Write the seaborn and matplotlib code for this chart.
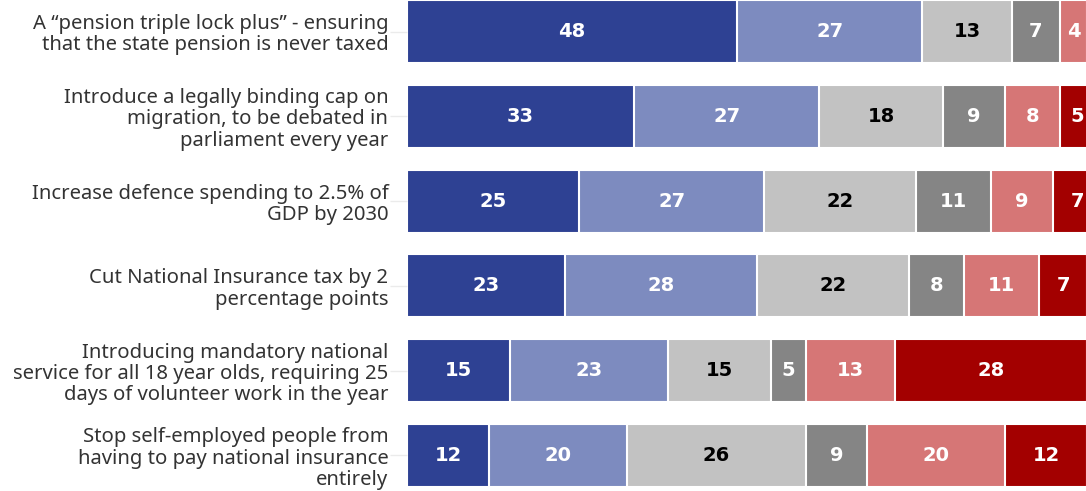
import matplotlib
matplotlib.use('Agg')
import matplotlib.pyplot as plt
import seaborn as sns
import pandas as pd
import numpy as np

# Statements (y categories)
statements = [
    'A \u201cpension triple lock plus\u201d - ensuring\nthat the state pension is never taxed',
    'Introduce a legally binding cap on\nmigration, to be debated in\nparliament every year',
    'Increase defence spending to 2.5% of\nGDP by 2030',
    'Cut National Insurance tax by 2\npercentage points',
    'Introducing mandatory national\nservice for all 18 year olds, requiring 25\ndays of volunteer work in the year',
    'Stop self-employed people from\nhaving to pay national insurance\nentirely',
]

# Response shares (%), one list per answer band
strongly_support = [48, 33, 25, 23, 15, 12]
tend_to_support = [27, 27, 27, 28, 23, 20]
neither = [13, 18, 22, 22, 15, 26]
dont_know = [7, 9, 11, 8, 5, 9]
tend_to_oppose = [4, 8, 9, 11, 13, 20]
strongly_oppose = [1, 5, 7, 7, 28, 12]

bands = ['Strongly support', 'Tend to support', 'Neither', "Don't know",
         'Tend to oppose', 'Strongly oppose']
band_values = [strongly_support, tend_to_support, neither, dont_know,
               tend_to_oppose, strongly_oppose]
colors = ['#2e4193', '#7d8bbf', '#c2c2c2', '#858585', '#d67676', '#a30000']
text_colors = ['white', 'white', 'black', 'white', 'white', 'white']

df = pd.DataFrame(dict(zip(bands, band_values)), index=statements)
cum = df.cumsum(axis=1)

fig = plt.figure(figsize=(10.86, 4.91), dpi=100)
ax = fig.add_axes([407 / 1086, 0, 679 / 1086, 1])

# draw cumulative bars from the right-most band back to the first
for band, color in zip(reversed(bands), reversed(colors)):
    sns.barplot(x=cum[band].values, y=statements, orient='h', color=color,
                width=0.745, edgecolor='white', linewidth=1.5, ax=ax,
                saturation=1)

# value labels in the middle of each segment
for i, stmt in enumerate(statements):
    for band, tc in zip(bands, text_colors):
        v = df.loc[stmt, band]
        mid = cum.loc[stmt, band] - v / 2
        if v >= 3 and mid < 98.3:
            ax.text(mid, i, str(v), ha='center', va='center', color=tc,
                    fontsize=14, fontweight='bold', family='DejaVu Sans')

ax.set_xlim(0, 98.8)
ax.set_ylim(5 + 35.5 / 84.7, -31.5 / 84.7)
ax.set_xlabel('')
ax.set_ylabel('')
ax.set_xticks([])
for s in ax.spines.values():
    s.set_visible(False)
ax.tick_params(axis='y', length=12, color='#ebebeb', pad=1.5, width=1)
for lbl in ax.get_yticklabels():
    lbl.set_fontsize(14.6)
    lbl.set_color('#333333')
    lbl.set_family('Noto Sans')
    lbl.set_linespacing(1.08)
    lbl.set_multialignment('right')

fig.savefig('out.png', dpi=100)
